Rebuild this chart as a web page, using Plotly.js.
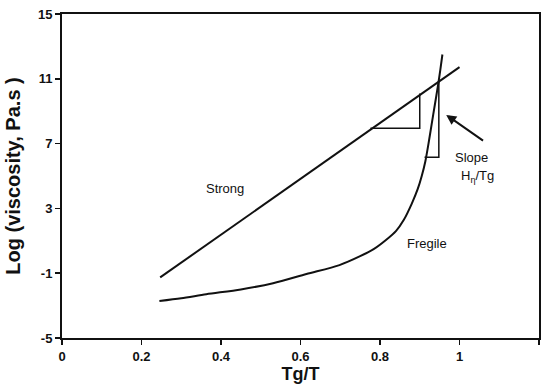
<!DOCTYPE html>
<html>
<head>
<meta charset="utf-8">
<script src="https://cdn.plot.ly/plotly-3.0.1.min.js"></script>
<style>
  html, body { margin: 0; padding: 0; background: #fff; }
  #chart { width: 542px; height: 391px; }
</style>
</head>
<body>
<div id="chart"></div>
<script>
// Strong liquid: straight Arrhenius line
const strongX = [0.247, 1.0];
const strongY = [-1.26, 11.72];

// Fragile liquid: steep rise close to Tg
const fragileX = [0.245, 0.30, 0.363, 0.45, 0.531, 0.615, 0.698, 0.75, 0.785, 0.815, 0.84, 0.86, 0.88, 0.895, 0.905, 0.914, 0.922, 0.93, 0.938, 0.946, 0.952, 0.957];
const fragileY = [-2.72, -2.55, -2.3, -2.0, -1.62, -1.05, -0.5, 0.05, 0.5, 1.05, 1.6, 2.3, 3.3, 4.2, 5.0, 5.9, 7.0, 8.2, 9.4, 10.6, 11.6, 12.5];

// Slope triangles
const strongTriX = [0.776, 0.9, 0.9];
const strongTriY = [7.95, 7.95, 10.1];
const fragileTriX = [0.912, 0.948, 0.948];
const fragileTriY = [6.15, 6.15, 10.9];

const xTicks = [0, 0.2, 0.4, 0.6, 0.8, 1, 1.2];
const xTickText = ['0', '0.2', '0.4', '0.6', '0.8', '1', '1.2'];
const yTicks = [-5, -1, 3, 7, 11, 15];
const yTickText = ['-5', '-1', '3', '7', '11', '15'];

const lineStyle = {color: '#111', width: 2};
const triStyle = {color: '#111', width: 1.5};

const traces = [
  {x: strongX, y: strongY, mode: 'lines', line: lineStyle, hoverinfo: 'skip'},
  {x: fragileX, y: fragileY, mode: 'lines', line: Object.assign({shape: 'spline', smoothing: 0.8}, lineStyle), hoverinfo: 'skip'},
  {x: strongTriX, y: strongTriY, mode: 'lines', line: triStyle, hoverinfo: 'skip'},
  {x: fragileTriX, y: fragileTriY, mode: 'lines', line: triStyle, hoverinfo: 'skip'}
];

const fam = 'Liberation Sans, Arial, sans-serif';
const tickFont = {family: fam, size: 13, color: '#111', weight: 'bold'};
const xTitleFont = {family: fam, size: 18, color: '#111', weight: 'bold'};
const yTitleFont = {family: fam, size: 20, color: '#111', weight: 'bold'};
const noteFont = {family: fam, size: 13, color: '#111'};

const layout = {
  width: 542,
  height: 391,
  margin: {l: 62, r: 3, t: 14, b: 53},
  paper_bgcolor: '#fff',
  plot_bgcolor: '#fff',
  showlegend: false,
  xaxis: {
    range: [0, 1.2],
    tickvals: xTicks,
    ticktext: xTickText,
    ticks: 'outside',
    ticklen: 5,
    tickwidth: 1.5,
    tickcolor: '#111',
    showgrid: false,
    zeroline: false,
    showline: true,
    linecolor: '#111',
    linewidth: 2,
    mirror: true,
    tickfont: tickFont,
    title: {text: 'Tg/T', font: xTitleFont, standoff: 4}
  },
  yaxis: {
    range: [-5, 15],
    tickvals: yTicks,
    ticktext: yTickText,
    ticks: 'outside',
    ticklen: 5,
    tickwidth: 1.5,
    tickcolor: '#111',
    showgrid: false,
    zeroline: false,
    showline: true,
    linecolor: '#111',
    linewidth: 2,
    mirror: true,
    tickfont: tickFont,
    title: {text: 'Log (viscosity, Pa.s )', font: yTitleFont, standoff: 12}
  },
  annotations: [
    {x: 0.41, y: 4.2, text: 'Strong', showarrow: false, font: noteFont},
    {x: 0.917, y: 0.86, text: 'Fregile', showarrow: false, font: noteFont},
    {x: 1.03, y: 6.17, text: 'Slope', showarrow: false, font: noteFont},
    {x: 1.045, y: 5.0, text: 'H<sub>η</sub>/Tg', showarrow: false, font: noteFont},
    {x: 0.9666, y: 8.77, ax: 1.063, ay: 7.12, axref: 'x', ayref: 'y', text: '',
     showarrow: true, arrowhead: 2, arrowsize: 1, arrowwidth: 2, arrowcolor: '#111'}
  ]
};

Plotly.newPlot('chart', traces, layout, {displayModeBar: false, staticPlot: true});
</script>
</body>
</html>
